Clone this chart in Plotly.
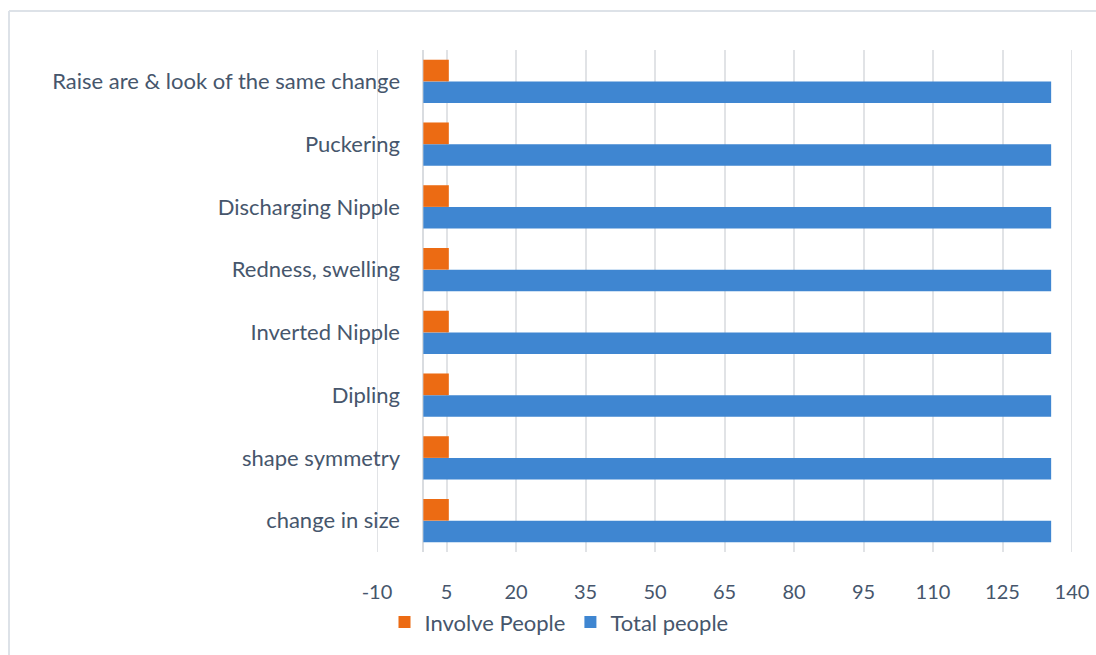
import plotly.graph_objects as go

categories = ["change in size", "shape symmetry", "Dipling", "Inverted Nipple",
              "Redness, swelling", "Discharging Nipple", "Puckering",
              "Raise are & look of the same change"]
involve_people = [5.5, 5.5, 5.5, 5.5, 5.5, 5.5, 5.5, 5.5]
total_people = [135.5, 135.5, 135.5, 135.5, 135.5, 135.5, 135.5, 135.5]
x_ticks = [-10, 5, 20, 35, 50, 65, 80, 95, 110, 125, 140]

FONT = "Lato"
TXT = "#46566C"
GRID = "#E1E3E6"

L, R, T, B = 377, 24, 50, 103
PW, PH = 1096 - L - R, 655 - T - B

fig = go.Figure()
fig.add_trace(go.Bar(y=categories, x=total_people, orientation="h", name="Total people",
                     marker=dict(color="#3F86D1", line=dict(width=0)), legendrank=2))
fig.add_trace(go.Bar(y=categories, x=involve_people, orientation="h", name="Involve People",
                     marker=dict(color="#EC6B13", line=dict(width=0)), legendrank=1))

shapes = [
    dict(type="line", xref="paper", yref="paper",
         x0=(9 - L) / PW, x1=(9 - L) / PW, y0=-B / PH, y1=(655 - 11 - B) / PH,
         line=dict(color="#DDE2E8", width=2), layer="below"),
    dict(type="line", xref="paper", yref="paper",
         x0=(9 - L) / PW, x1=(1096 - L) / PW, y0=(655 - 11 - B) / PH, y1=(655 - 11 - B) / PH,
         line=dict(color="#DDE2E8", width=2), layer="below"),
]
for xv in (x_ticks[0], x_ticks[-1]):
    shapes.append(dict(type="line", xref="x", yref="paper", x0=xv, x1=xv, y0=0, y1=1,
                       line=dict(color=GRID, width=2), layer="below"))

fig.update_layout(
    width=1096, height=655,
    margin=dict(l=L, r=R, t=T, b=B, autoexpand=False),
    paper_bgcolor="white", plot_bgcolor="white",
    barmode="group", bargap=0.31, bargroupgap=0,
    font=dict(family=FONT, size=22, color=TXT),
    showlegend=True,
    legend=dict(orientation="h", x=(559 - L) / PW, xanchor="center", y=-0.14, yanchor="middle",
                font=dict(family=FONT, size=22, color=TXT), itemwidth=30,
                traceorder="normal"),
    xaxis=dict(range=[-10, 140], tickmode="array", tickvals=x_ticks,
               ticktext=[str(v) for v in x_ticks], automargin=False,
               showgrid=True, gridcolor=GRID, gridwidth=2,
               zeroline=True, zerolinecolor="#D9DCE0", zerolinewidth=2,
               showline=False, ticks="", ticklabelstandoff=26,
               tickfont=dict(size=20, color=TXT)),
    yaxis=dict(type="category", categoryorder="array", categoryarray=categories,
               showgrid=False, zeroline=False, showline=False, ticks="", automargin=False,
               ticklabelstandoff=-24, tickfont=dict(size=22, color=TXT)),
    shapes=shapes,
)

fig.write_html("out.html")
